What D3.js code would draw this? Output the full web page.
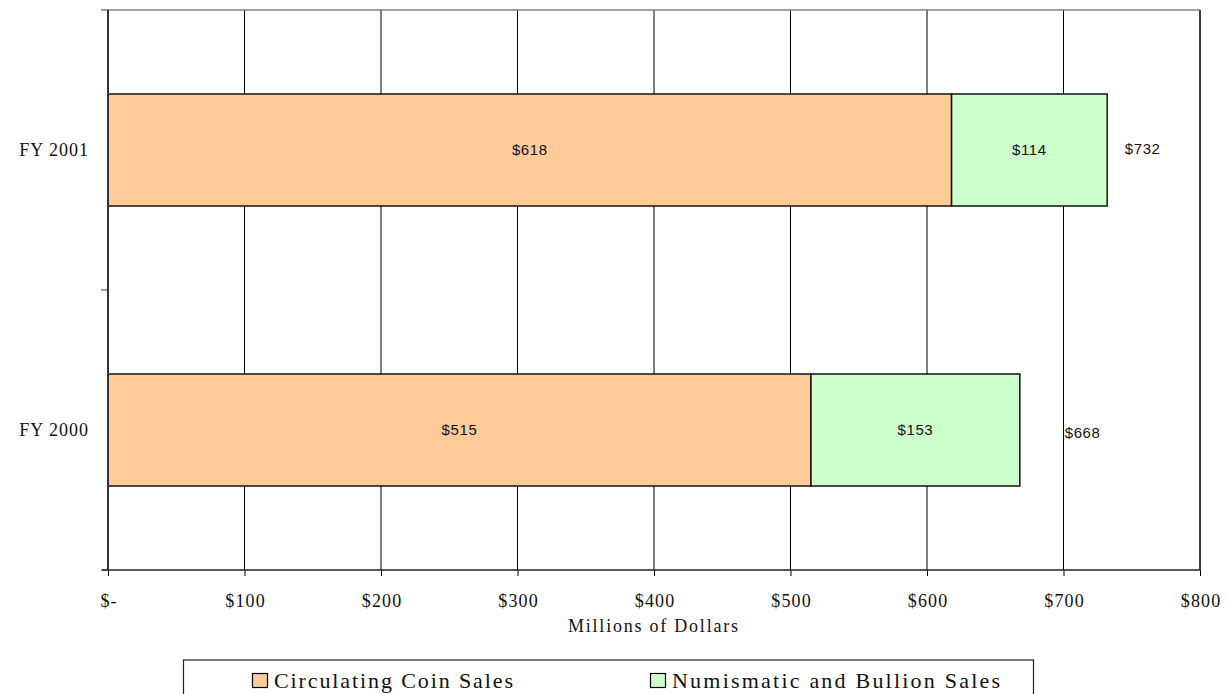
<!DOCTYPE html>
<html>
<head>
<meta charset="utf-8">
<script src="https://cdn.jsdelivr.net/npm/d3@7"></script>
<style>
  body { margin: 0; background: #fff; }
  svg { display: block; }
</style>
</head>
<body>
<script>
// data (millions of dollars)
var years = ["FY 2001", "FY 2000"];
var circulating = [618, 515];
var numismatic = [114, 153];
var totals = [732, 668];
var totalLabelAt = [758, 714]; // where the total label sits, in dollars
var seriesNames = ["Circulating Coin Sales", "Numismatic and Bullion Sales"];
var seriesColors = ["#ffcc99", "#ccffcc"];
var xTicks = [0, 100, 200, 300, 400, 500, 600, 700, 800];

var W = 1230, H = 694;
var plotL = 108, plotR = 1200, plotT = 10, plotB = 570;
var serif = "'Liberation Serif', 'Times New Roman', serif";

var svg = d3.select("body").append("svg")
  .attr("width", W).attr("height", H);

var x = d3.scaleLinear().domain([0, 800]).range([plotL, plotR]);
var y = d3.scaleBand().domain(years).range([plotT, plotB]).paddingInner(0.6).paddingOuter(0.3);

var money = function(d){ return d === 0 ? "$-" : "$" + d; };

// gridlines
svg.append("g").selectAll("line").data(xTicks.slice(1)).enter().append("line")
  .attr("x1", function(d){ return x(d); }).attr("x2", function(d){ return x(d); })
  .attr("y1", plotT).attr("y2", plotB)
  .style("stroke", "#000").style("stroke-width", 1);

// top border
svg.append("line").attr("x1", plotL).attr("x2", plotR).attr("y1", plotT).attr("y2", plotT)
  .style("stroke", "#808080").style("stroke-width", 1.5);

// bars
var rows = years.map(function(yr, i){ return {year: yr, c: circulating[i], n: numismatic[i], t: totals[i], la: totalLabelAt[i]}; });

var bars = svg.append("g");
bars.selectAll("rect.circ").data(rows).enter().append("rect")
  .attr("class", "circ")
  .attr("x", x(0)).attr("y", function(d){ return y(d.year); })
  .attr("width", function(d){ return x(d.c) - x(0); })
  .attr("height", y.bandwidth())
  .style("fill", seriesColors[0]).style("stroke", "#111").style("stroke-width", 1.5);

bars.selectAll("rect.num").data(rows).enter().append("rect")
  .attr("class", "num")
  .attr("x", function(d){ return x(d.c); }).attr("y", function(d){ return y(d.year); })
  .attr("width", function(d){ return x(d.c + d.n) - x(d.c); })
  .attr("height", y.bandwidth())
  .style("fill", seriesColors[1]).style("stroke", "#111").style("stroke-width", 1.5);

// value labels
var lbl = svg.append("g").style("font-family", "Arial, 'Liberation Sans', sans-serif")
  .style("font-size", "15px").style("letter-spacing", "0.6px").style("fill", "#111");
lbl.selectAll("text.c").data(rows).enter().append("text")
  .attr("x", function(d){ return x(d.c / 2); })
  .attr("y", function(d){ return y(d.year) + y.bandwidth() / 2; })
  .attr("dy", "0.35em").attr("text-anchor", "middle")
  .text(function(d){ return money(d.c); });
lbl.selectAll("text.n").data(rows).enter().append("text")
  .attr("x", function(d){ return x(d.c + d.n / 2); })
  .attr("y", function(d){ return y(d.year) + y.bandwidth() / 2; })
  .attr("dy", "0.35em").attr("text-anchor", "middle")
  .text(function(d){ return money(d.n); });
lbl.selectAll("text.t").data(rows).enter().append("text")
  .attr("x", function(d){ return x(d.la); })
  .attr("y", function(d, i){ return y(d.year) + y.bandwidth() / 2 + (i === 0 ? -1 : 3); })
  .attr("dy", "0.35em").attr("text-anchor", "middle")
  .text(function(d){ return money(d.t); });

// right border
svg.append("line").attr("x1", plotR).attr("x2", plotR).attr("y1", plotT).attr("y2", plotB)
  .style("stroke", "#000").style("stroke-width", 1);

// x axis
var xAxis = d3.axisBottom(x).tickValues(xTicks).tickFormat(money).tickSize(6).tickPadding(18);
var gx = svg.append("g").attr("transform", "translate(0," + plotB + ")").call(xAxis);
gx.select(".domain").remove();
gx.append("line").attr("x1", plotL - 6).attr("x2", plotR).attr("y1", 0).attr("y2", 0)
  .style("stroke", "#222").style("stroke-width", 1.5);
gx.selectAll(".tick line").style("stroke", "#000");
gx.selectAll("text").style("font-family", serif)
  .style("font-size", "18px").style("letter-spacing", "1.2px").style("fill", "#111")
  .attr("dx", "0.6px");

// y axis: ticks at band boundaries, labels centred on bars
var yEdges = [plotT, (plotT + plotB) / 2, plotB];
svg.append("line").attr("x1", plotL).attr("x2", plotL).attr("y1", plotT).attr("y2", plotB)
  .style("stroke", "#333").style("stroke-width", 2);
svg.append("g").selectAll("line").data(yEdges).enter().append("line")
  .attr("x1", plotL - 7).attr("x2", plotL).attr("y1", function(d){ return d; }).attr("y2", function(d){ return d; })
  .style("stroke", "#333").style("stroke-width", 1);
svg.append("g").selectAll("text").data(years).enter().append("text")
  .attr("x", 89).attr("y", function(d){ return y(d) + y.bandwidth() / 2 + 6; })
  .attr("text-anchor", "end")
  .style("font-family", serif).style("font-size", "18px").style("letter-spacing", "1px")
  .style("fill", "#111")
  .text(function(d){ return d; });

// axis title
svg.append("text").attr("x", 568).attr("y", 632)
  .attr("textLength", 170).attr("lengthAdjust", "spacing")
  .style("font-family", serif).style("font-size", "18px").style("fill", "#111")
  .text("Millions of Dollars");

// legend
var leg = svg.append("g");
leg.append("rect").attr("x", 183.5).attr("y", 660).attr("width", 850).attr("height", 50)
  .style("fill", "#fff").style("stroke", "#222").style("stroke-width", 1.2);
var legX = [252, 650];
var legW = [239, 328];
var items = leg.selectAll("g.item").data(seriesNames).enter().append("g")
  .attr("transform", function(d, i){ return "translate(" + legX[i] + ",0)"; });
items.append("rect").attr("x", 0.5).attr("y", 673.5).attr("width", 15).attr("height", 14)
  .style("fill", function(d, i){ return seriesColors[i]; }).style("stroke", "#000").style("stroke-width", 1.2);
items.append("text").attr("x", 22).attr("y", 688)
  .attr("textLength", function(d, i){ return legW[i]; }).attr("lengthAdjust", "spacing")
  .style("font-family", serif).style("font-size", "22px").style("fill", "#111")
  .text(function(d){ return d; });
</script>
</body>
</html>
